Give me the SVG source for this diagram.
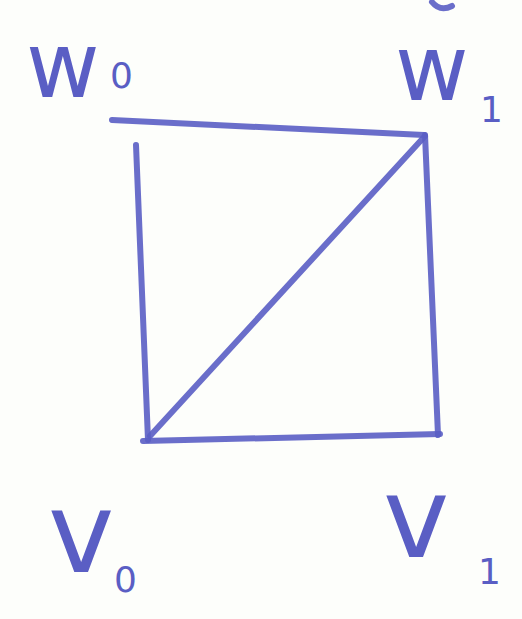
<svg xmlns="http://www.w3.org/2000/svg" width="522" height="619" viewBox="0 0 522 619">
<style>
.e{stroke:#5a5ec4;stroke-width:6;stroke-linecap:round;fill:none;opacity:0.9}
.l{font-family:"DejaVu Sans",sans-serif;fill:#5a5ec4}
.m{font-size:90px}
.v{font-size:112px}
.s{font-size:36px}
</style>
<rect width="522" height="619" fill="#fdfefb"/>
<path class="e" d="M432,2 Q440,12 452,6"/>
<g id="connectors">
<line class="e" x1="112" y1="120" x2="424" y2="135"/>
<line class="e" x1="136" y1="145" x2="148" y2="440"/>
<line class="e" x1="425" y1="135" x2="438" y2="435"/>
<line class="e" x1="143" y1="441" x2="440" y2="434"/>
<line class="e" x1="150" y1="436" x2="425" y2="136"/>
</g>
<g id="w0"><text class="l m" x="26" y="97">w</text><text class="l s" x="110" y="88">0</text></g>
<g id="w1"><text class="l m" x="395" y="100">w</text><text class="l s" x="480" y="122">1</text></g>
<g id="v0"><text class="l v" x="48" y="572">v</text><text class="l s" x="114" y="592">0</text></g>
<g id="v1"><text class="l v" x="383" y="557">v</text><text class="l s" x="478" y="584">1</text></g>
</svg>
